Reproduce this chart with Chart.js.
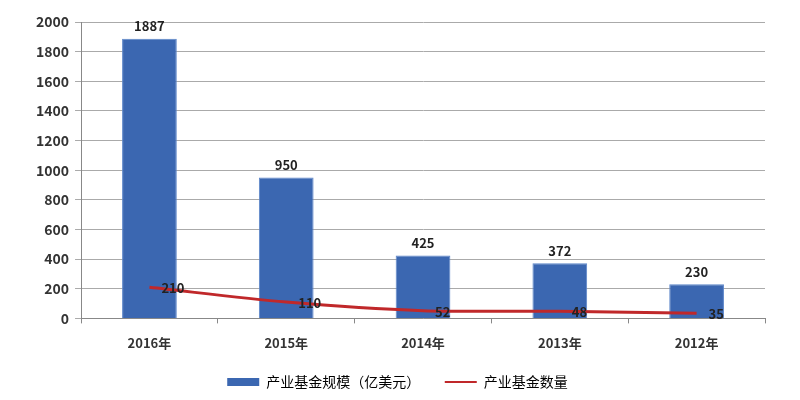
<!DOCTYPE html>
<html>
<head>
<meta charset="utf-8">
<script src="https://cdn.jsdelivr.net/npm/chart.js@4"></script>
<style>
  body { margin: 0; background: #fff; }
  #wrap { width: 800px; height: 400px; }
</style>
</head>
<body>
<div id="wrap"><canvas id="myChart"></canvas></div>
<script>
const years = ['2016年', '2015年', '2014年', '2013年', '2012年'];
const fundScale = [1887, 950, 425, 372, 230];
const fundCount = [210, 110, 52, 48, 35];
const yTicks = [0, 200, 400, 600, 800, 1000, 1200, 1400, 1600, 1800, 2000];

const FONT = '"Noto Sans CJK SC", "Liberation Sans", sans-serif';

// simple value labels: bars on top, line to the right of each point
const valueLabels = {
    id: 'valueLabels',
    afterDatasetsDraw(chart) {
        const c = chart.ctx;
        c.save();
        c.font = 'bold 13px ' + FONT;
        c.fillStyle = '#222';
        chart.data.datasets.forEach((ds, i) => {
            const meta = chart.getDatasetMeta(i);
            meta.data.forEach((el, j) => {
                const v = ds.data[j];
                if (ds.type === 'bar') {
                    c.textAlign = 'center';
                    c.textBaseline = 'bottom';
                    c.fillText(v, el.x, el.y - 6);
                } else {
                    c.textAlign = 'left';
                    c.textBaseline = 'middle';
                    c.fillText(v, el.x + 12, el.y + 1);
                }
            });
        });
        c.restore();
    }
};

const ctx = document.getElementById('myChart').getContext('2d');

new Chart(ctx, {
    data: {
        labels: years,
        datasets: [
            {
                type: 'line',
                label: '产业基金数量',
                data: fundCount,
                borderColor: '#c0282a',
                backgroundColor: '#c0282a',
                borderWidth: 3,
                pointRadius: 0,
                tension: 0.3,
                order: 0
            },
            {
                type: 'bar',
                label: '产业基金规模（亿美元）    ',
                data: fundScale,
                backgroundColor: '#3b67b1',
                borderColor: '#5b85c9',
                borderWidth: 1,
                categoryPercentage: 0.4,
                barPercentage: 1,
                order: 1
            }
        ]
    },
    options: {
        responsive: true,
        maintainAspectRatio: false,
        animation: false,
        layout: { padding: { left: 30, right: 35, top: 22, bottom: 1 } },
        plugins: {
            legend: {
                position: 'bottom',
                reverse: true,
                labels: {
                    font: { family: FONT, size: 14 },
                    color: '#222',
                    usePointStyle: true,
                    pointStyleWidth: 32,
                    boxHeight: 8,
                    padding: 12,
                    generateLabels(chart) {
                        return chart.data.datasets.map((ds, i) => ({
                            text: ds.label,
                            fillStyle: ds.type === 'bar' ? '#3b67b1' : '#c0282a',
                            strokeStyle: ds.type === 'bar' ? '#3b67b1' : '#c0282a',
                            lineWidth: ds.type === 'bar' ? 0 : 2,
                            pointStyle: ds.type === 'bar' ? 'rect' : 'line',
                            datasetIndex: i
                        }));
                    }
                }
            },
            tooltip: { enabled: false }
        },
        scales: {
            x: {
                grid: {
                    display: true,
                    drawOnChartArea: false,
                    drawTicks: true,
                    offset: true,
                    tickLength: 5,
                    color: '#888'
                },
                border: { color: '#888' },
                ticks: {
                    font: { family: FONT, size: 13, weight: 'bold' },
                    color: '#333',
                    padding: 12
                }
            },
            y: {
                min: 0,
                max: 2000,
                afterBuildTicks(axis) {
                    axis.ticks = yTicks.map(v => ({ value: v }));
                },
                grid: {
                    color: '#aaa',
                    tickLength: 6
                },
                border: { color: '#888' },
                ticks: {
                    font: { family: FONT, size: 14, weight: 'bold' },
                    color: '#333',
                    padding: 6,
                    callback: v => String(v)
                }
            }
        }
    },
    plugins: [valueLabels]
});
</script>
</body>
</html>
